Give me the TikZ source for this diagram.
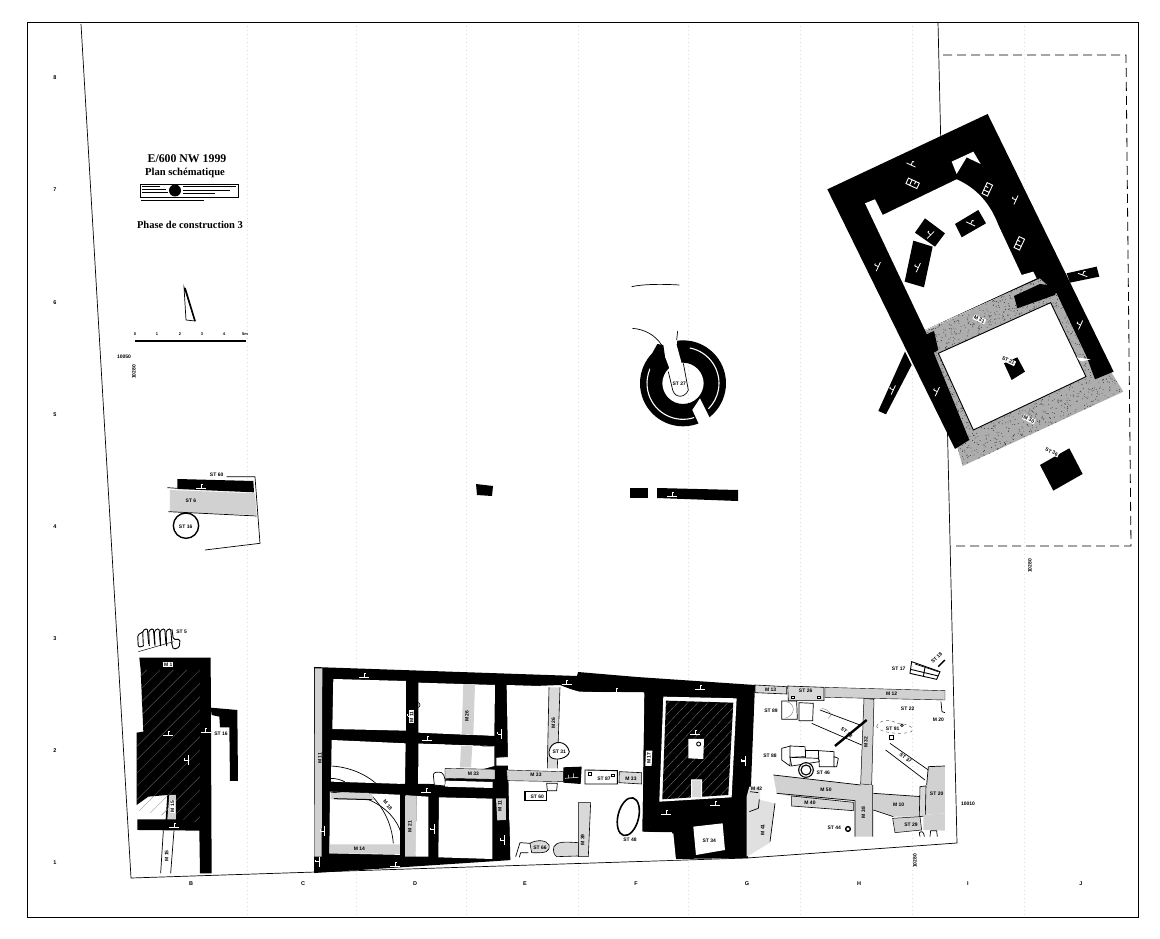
\documentclass[tikz,border=0pt]{standalone}
\usepackage{fontspec}
\setmainfont{Liberation Serif}
\newfontfamily\tagf{Liberation Sans}[Scale=1]
\tikzset{
 wallp/.style={fill=black,draw=none},
 whitep/.style={fill=white,draw=none},
 greyp/.style={fill=black!18,draw=none},
 greylined/.style={fill=black!15,draw=black,line width=.6pt},
 boxp/.style={fill=white,draw=black,line width=.7pt},
 thin1/.style={draw=black,line width=.7pt},
 med1/.style={draw=black,line width=1pt},
 gridl/.style={draw=black!14,line width=.4pt,dash pattern=on 1pt off 3pt},
 z2/.style={shift={(810,100)},x=.3333pt,y=-.3333pt},
 z3/.style={shift={(120,610)},x=.3333pt,y=-.3333pt},
 z4/.style={shift={(400,660)},x=.3333pt,y=-.3333pt},
 z5/.style={shift={(740,640)},x=.3333pt,y=-.3333pt},
 z6/.style={shift={(600,270)},x=.3333pt,y=-.3333pt},
 z7/.style={shift={(140,455)},x=.3333pt,y=-.3333pt},
}
\newcommand{\lab}[5]{\node[inner sep=0pt,text=#4,rotate=#3,font=\tagf\bfseries\fontsize{5}{5}\selectfont] at (#1,#2) {#5};}
\newcommand{\wlab}[4]{\node[inner sep=.8pt,fill=white,rotate=#3,font=\tagf\bfseries\fontsize{5}{5}\selectfont] at (#1,#2) {#4};}
\newcommand{\axl}[3]{\node[inner sep=0pt,font=\tagf\bfseries\fontsize{5.5}{6}\selectfont] at (#1,#2) {#3};}
% survey mark: x y rotation colour (always in pixel units)
\newcommand{\tmk}[4]{\begin{scope}[shift={(#1,#2)},rotate=#3,x=1pt,y=-1pt]\draw[#4,line width=.8pt] (-5,0)--(5,0) (0,0)--(0,-4) (0,-4)--(1.6,-4);\end{scope}}
% boxed mark
\newcommand{\bmk}[3]{\begin{scope}[shift={(#1,#2)},rotate=#3,x=1pt,y=-1pt]\draw[white,line width=.9pt] (-6,-3) rectangle (6,3) (-2,-3)--(-2,3) (2,-3)--(2,0);\end{scope}}
\newcommand{\speck}[5]{\foreach \i in {1,...,#5}{\pgfmathsetmacro\xa{#1+rnd*(#3-#1)}\pgfmathsetmacro\ya{#2+rnd*(#4-#2)}\fill[black!80] (\xa,\ya) circle (.45pt);}}
\begin{document}
\begin{tikzpicture}[x=1pt,y=-1pt]
\useasboundingbox (0,0) rectangle (1160,939);
\fill[white] (0,0) rectangle (1160,939);
\pgfmathsetseed{7}
\foreach \gx in {247,356,466,578,688,800,912,1024}{\draw[gridl] (\gx,22)--(\gx,917);}
\draw[black,line width=.8pt] (27,22) rectangle (1138,917);
\draw[black,line width=.7pt] (81,24)--(131,878)--(747,858)--(957,843)--(938,22);
\draw[black,line width=.8pt,dash pattern=on 9pt off 5pt] (943,55)--(1126,55)--(1131,546)--(950,546);
\axl{55}{78}{8}\axl{55}{190}{7}\axl{55}{303}{6}\axl{55}{415}{5}\axl{55}{527}{4}\axl{55}{639}{3}\axl{55}{751}{2}\axl{55}{863}{1}
\axl{191}{884}{B}\axl{303}{884}{C}\axl{415}{884}{D}\axl{525}{884}{E}\axl{636}{884}{F}\axl{747}{884}{G}\axl{859}{884}{H}\axl{968}{884}{I}\axl{1081}{884}{J}
\lab{124}{357}{0}{black}{10050}
\lab{134}{372}{90}{black}{10280}
\lab{968}{804}{0}{black}{10010}
\lab{1030}{566}{90}{black}{10280}
\lab{915}{861}{90}{black}{10280}
% title block
\node[inner sep=0pt,font=\bfseries\fontsize{11.8}{13}\selectfont] (ttl) at (187,159) {E/600 NW 1999};
\node[inner sep=0pt,font=\bfseries\fontsize{10.6}{12}\selectfont] (sub) at (185,173) {Plan schématique};
\draw[black,line width=.6pt] (140,184) rectangle (238,197);
\fill[black] (175,190.5) circle (6);
\draw[black,line width=1pt] (142,187)--(160,187) (142,190)--(166,190) (142,193)--(168,193) (183,186.5)--(236,186.5) (183,191)--(230,191) (183,194)--(215,194);
\draw[black,line width=1pt] (141,201)--(204,201);
\node[inner sep=0pt,font=\bfseries\fontsize{10.5}{12}\selectfont] (phs) at (190,225) {Phase de construction 3};
% scale bar and wedge
\draw[black,line width=.7pt,fill=white] (184,287)--(195,321)--(186,320)--cycle;
\draw[black,line width=1.6pt] (185,288)--(195,321);
\draw[black,line width=2.6pt] (135,341)--(246,341);
\foreach \sx/\st in {135/0,157/1,180/2,202/3,224/4}{\node[inner sep=0pt,font=\tagf\bfseries\fontsize{4}{5}\selectfont] at (\sx,334) {\st};}
\node[inner sep=0pt,font=\tagf\bfseries\fontsize{4}{5}\selectfont] at (245,334) {5m};
% =============== NE building
\begin{scope}[z2]
 \begin{scope}
  \clip (340,695)--(690,535)--(750,570)--(940,875)--(458,1098)--cycle;
  \fill[black!32] (340,530) rectangle (950,1100);
  \speck{340}{530}{950}{1100}{3200}
 \end{scope}
 \path[wallp] (52,268)--(533,42)--(911,815)--(855,838)--(830,770)--(740,580)--(690,535)--(345,690)--(372,760)--(478,1020)--(435,1047)--cycle;
 \path[whitep] (165,310)--(195,298)--(218,345)--(440,238) .. controls (500,265) and (540,310) .. (565,375)--(635,525)--(670,515)--(680,535)--(345,690)--cycle;
 \path[whitep] (425,185)--(490,155)--(512,192)--(470,172)--(440,222)--cycle;
 \path[wallp] (612,588)--(690,552)--(745,560)--(735,585)--(622,625)--cycle;
 \path[wallp] (340,708)--(372,693)--(385,750)--(365,762)--cycle;
 \path[wallp] (770,520)--(860,500)--(868,530)--(780,548)--cycle;
 \path[wallp] (285,755)--(305,795)--(228,943)--(205,933)--cycle;
 \path[wallp] (315,398)--(345,355)--(405,400)--(375,440)--cycle;
 \path[wallp] (310,422)--(368,440)--(342,562)--(284,545)--cycle;
 \path[wallp] (435,372)--(505,330)--(528,370)--(455,412)--cycle;
 \path[wallp] (690,1095)--(778,1045)--(818,1122)--(730,1172)--cycle;
 \path[fill=white,draw=black,line width=.9pt] (385,760)--(722,608)--(828,830)--(490,990)--cycle;
 \path[wallp] (582,790)--(622,772)--(645,815)--(605,840)--cycle;
 \path[whitep] (800,772)--(842,778)--(812,785)--cycle;
 \tmk{303}{195}{-25}{white}
 \bmk{308}{250}{-25}
 \bmk{532}{268}{65}
 \tmk{618}{300}{65}{white}
 \bmk{628}{430}{65}
 \tmk{205}{500}{65}{white}
 \tmk{325}{503}{65}{white}
 \tmk{362}{405}{45}{white}
 \tmk{482}{372}{-25}{white}
 \tmk{818}{525}{-20}{white}
 \tmk{812}{675}{65}{white}
 \tmk{382}{875}{65}{white}
 \tmk{250}{870}{65}{white}
 \wlab{508}{658}{-25}{M 31}
 \wlab{595}{782}{-25}{ST 21}
 \wlab{657}{958}{-25}{M 30}
 \wlab{725}{1056}{-25}{ST 36}
\end{scope}
% =============== ST 27 circle
\begin{scope}[z6]
 \path[wallp,even odd rule] (249,340) circle (129) (249,340) circle (62);
 \draw[white,line width=1.1pt] (249,340) ++(-79:108) arc (-79:45:108);
 \draw[white,line width=1.1pt] (249,340) ++(72:108) arc (72:216:108);
 \path[whitep] (170,175)--(235,180)--(230,225)--(245,280)--(268,300)--(210,300)--(195,260)--(172,222)--cycle;
 \path[whitep] (277,420)--(300,385)--(330,445)--(345,500)--(298,500)--(298,465)--cycle;
 \path[wallp] (150,262)--(172,222)--(190,225)--(195,260)--(150,300)--cycle;
 \draw[thin1] (205,305)--(218,360) .. controls (225,385) and (255,385) .. (265,360)--(250,280);
 \draw[thin1] (97,175) .. controls (135,178) and (165,195) .. (185,225);
 \draw[thin1] (233,183)--(230,210);
 \draw[thin1] (95,50) .. controls (130,42) and (190,42) .. (238,45);
 \lab{238}{342}{0}{black}{ST 27}
\end{scope}
\path[wallp] (476,484)--(493,486)--(492,496)--(477,495)--cycle;
\path[wallp] (630,488)--(648,488)--(648,498)--(630,498)--cycle;
\path[wallp] (657,488)--(738,490)--(738,501)--(657,498)--cycle;
\tmk{672}{496}{0}{white}
% =============== ST 16 area
\begin{scope}[z7]
 \draw[thin1] (260,65)--(345,65)--(360,265)--(195,285);
 \path[greyp] (90,105)--(345,115)--(350,180)--(90,170)--cycle;
 \path[wallp] (112,72)--(340,78)--(342,112)--(112,102)--cycle;
 \draw[thin1] (82,98)--(112,100) (85,170)--(350,183);
 \tmk{183}{99}{0}{white}
 \draw[black,line width=1.4pt,fill=white] (138,212) circle (38);
 \lab{230}{58}{0}{black}{ST 60}
 \lab{153}{137}{0}{black}{ST 6}
 \lab{137}{214}{0}{black}{ST 16}
\end{scope}
% =============== West building (B)
\begin{scope}[z3]
 \begin{scope}[rounded corners=1.5pt,black,line width=.9pt]
  \foreach \rx in {70,88,105,122,140}{\draw (\rx,108)--(\rx-2,62)--(\rx+12,55)--(\rx+16,102);}
  \draw (70,108)--(55,112)--(53,75)--(70,65);
  \draw (156,58)--(160,88)--(180,88)--(178,112)--(160,118)--(155,100);
 \end{scope}
 \draw[black,line width=.5pt] (55,125)--(160,95);
 \lab{185}{64}{0}{black}{ST 5}
 \path[wallp] (58,143)--(272,143)--(275,790)--(240,790)--(238,662)--(52,660)--(52,628)--(137,628)--(142,555)--(85,560)--(50,585)--(50,368)--(70,365)--(62,180)--cycle;
 \path[wallp] (272,293)--(352,300)--(354,513)--(330,513)--(328,352)--(300,352)--(298,320)--(275,315)--cycle;
 \begin{scope}
  \clip (60,180)--(240,180)--(240,640)--(50,600)--(50,368)--(70,365)--cycle;
  \foreach \d in {0,40,...,800}{\draw[white!45!black,line width=.25pt] (\d,100)--(\d-560,660);}
 \end{scope}
 \path[greyp] (148,555)--(168,555)--(168,628)--(142,628)--cycle;
 \draw[thin1] (130,662)--(122,790) (162,662)--(152,790);
 \path[boxp,draw=none] (130,155) rectangle (160,172);
 \lab{145}{164}{0}{black}{M 1}
 \tmk{145}{375}{0}{white}
 \tmk{257}{366}{0}{white}
 \tmk{205}{450}{90}{white}
 \tmk{163}{652}{0}{white}
 \wlab{157}{590}{90}{M 15}
 \lab{140}{738}{90}{black}{M 15}
 \lab{303}{370}{0}{black}{ST 16}
\end{scope}
% =============== Central block (D/E)
\path[wallp] (314,667)--(577,676)--(578,672)--(637,677)--(755,685)--(748,858)--(675,859)--(672,832)--(642,832)--(644,692)--(578,692)--(560,685)--(508,687)--(512,860)--(314,873)--cycle;
\begin{scope}[z3]
 \path[greyp] (585,175)--(607,175)--(605,740)--(583,740)--cycle;
 \path[whitep] (640,207)--(858,213)--(858,362)--(637,357)--cycle;
 \path[whitep] (635,390)--(857,400)--(855,522)--(633,515)--cycle;
 \path[whitep] (630,545)--(855,555)--(855,735)--(628,730)--cycle;
 \path[greyp] (857,555)--(888,558)--(888,738)--(855,738)--cycle;
 \path[greyp] (630,703)--(852,703)--(852,732)--(628,730)--cycle;
 \draw[thin1] (630,468) .. controls (690,470) and (740,495) .. (770,522);
 \draw[thin1] (630,505) .. controls (650,505) and (665,510) .. (675,516);
 \draw[thin1] (745,547) .. controls (790,590) and (815,640) .. (820,700);
 \draw[thin1] (632,547) .. controls (760,550) and (840,610) .. (850,700);
 \path[greyp] (632,549) -- (745,549) .. controls (760,555) and (760,560) .. (762,570)--(632,568)--cycle;
 \draw[thin1,line width=1pt] (642,566)--(755,569);
 \draw[black,line width=.5pt] (852,733)--(890,738);
 \lab{600}{445}{90}{black}{M 11}
 \lab{803}{585}{-50}{black}{M 18}
 \lab{718}{715}{0}{black}{M 14}
 \lab{870}{650}{90}{black}{M 21}
 \tmk{733}{202}{0}{white}
 \tmk{875}{318}{90}{white}
 \tmk{612}{663}{90}{white}
 \tmk{598}{755}{90}{white}
 \tmk{825}{768}{0}{white}
\end{scope}
\begin{scope}[z4]
 \path[whitep] (55,68)--(285,75)--(283,228)--(55,218)--cycle;
 \path[greyp] (190,72)--(225,72)--(220,225)--(185,222)--cycle;
 \path[whitep] (55,250)--(283,258)--(283,318)--(55,380)--cycle;
 \path[whitep] (55,320)--(135,320)--(135,380)--(55,380)--cycle;
 \path[whitep] (250,230)--(280,230)--(280,258)--(248,258)--cycle;
 \draw[thin1] (250,230)--(280,230)--(280,258)--(248,258)--cycle;
 \path[greyp] (183,258)--(217,258)--(213,322)--(180,322)--cycle;
 \path[wallp] (0,372)--(90,372)--(285,385)--(285,412)--(0,405)--cycle;
 \path[wallp] (0,220)--(283,228)--(283,258)--(0,248)--cycle;
 \path[greyp,draw=black,line width=.4pt] (135,325)--(285,328)--(285,358)--(135,355)--cycle;
 \path[boxp,line width=.7pt] (100,345) .. controls (100,335) and (115,335) .. (125,338) .. controls (135,345) and (137,365) .. (135,378)--(103,375)--cycle;
 \path[whitep] (137,362)--(278,366)--(278,384)--(135,380)--cycle;
 \path[greyp] (15,408)--(50,408)--(47,590)--(15,590)--cycle;
 \path[whitep] (50,408)--(85,410)--(85,590)--(47,590)--cycle;
 \path[whitep] (117,412)--(277,416)--(277,597)--(115,592)--cycle;
 \path[wallp] (0,405)--(15,405)--(15,590)--(0,590)--cycle;
 \path[whitep,draw=black,line width=.7pt] (288,292)--(326,290)--(326,318)--(288,318)--cycle;
 \path[greyp] (288,415)--(318,415)--(318,480)--(292,482)--cycle;
 \path[whitep] (320,75)--(482,80)--(538,95)--(733,100)--(727,515)--(820,520)--(828,600)--(330,605)--cycle;
 \path[wallp] (290,482)--(328,480)--(331,600)--(115,600)--(277,597)--(290,595)--cycle;
 \path[greylined,draw=none] (447,82)--(480,82)--(472,325)--(442,325)--cycle;
 \draw[black,line width=.6pt] (447,82)--(442,325) (480,82)--(472,325);
 \path[greyp,draw=black,line width=.4pt] (320,330)--(490,335)--(490,365)--(322,362)--cycle;
 \path[wallp] (490,322)--(545,320)--(542,372)--(490,368)--cycle;
 \draw[white,line width=.5pt] (495,355)--(535,352) (505,355)--(505,345) (520,352)--(520,340);
 \path[boxp,line width=.9pt] (555,330)--(652,332)--(652,372)--(555,372)--cycle;
 \draw[black,line width=.7pt] (566,336) rectangle (575,345);
 \draw[black,line width=.7pt] (635,342) rectangle (642,350);
 \path[greylined] (658,335)--(725,338)--(725,372)--(657,368)--cycle;
 \path[boxp,line width=1.2pt] (375,395)--(440,395)--(440,422)--(375,422)--cycle;
 \path[boxp] (440,370)--(472,370)--(470,392)--(442,392)--cycle;
 \path[greylined] (535,428)--(572,428)--(565,590)--(535,590)--cycle;
 \draw[black,line width=1.6pt] (685,470) ellipse [x radius=31,y radius=58,rotate=-14];
 \draw[boxp,line width=.9pt] (450,265) .. controls (460,240) and (500,240) .. (508,275) .. controls (505,295) and (465,305) .. (450,290) .. controls (445,280) and (447,270) .. (450,265);
 \draw[greylined] (390,550) .. controls (410,538) and (440,540) .. (447,555) .. controls (450,575) and (440,580) .. (395,578)--cycle;
 \draw[greylined] (462,560) .. controls (470,545) and (490,545) .. (535,548)--(535,588)--(470,590) .. controls (462,585) and (458,572) .. (462,560);
 \draw[thin1] (347,590)--(360,548)--(390,550) (385,578)--(362,578)--(358,592);
 \path[fill=white] (790,110)--(1010,115)--(995,412)--(778,425)--cycle;
 \path[wallp] (798,122)--(1000,128)--(985,405)--(787,418)--cycle;
 \begin{scope}
  \clip (798,122)--(1000,128)--(985,405)--(787,418)--cycle;
  \foreach \d in {800,830,...,1400}{\draw[white!55!black,line width=.25pt] (\d,100)--(\d-330,450);}
 \end{scope}
 \path[whitep] (865,237)--(912,237)--(910,297)--(865,295)--cycle;
 \draw[black,line width=.9pt] (896,252) circle (6);
 \path[fill=black!15,draw=white,line width=1pt] (875,360)--(905,360)--(905,415)--(875,412)--cycle;
 \path[whitep] (880,500)--(968,490)--(975,570)--(888,585)--cycle;
 \path[whitep] (738,272)--(757,272)--(755,318)--(736,318)--cycle;
 \lab{747}{295}{90}{black}{M 17}
 \draw[black,line width=.6pt] (52,135) circle (8);
 \tmk{82}{241}{0}{white}
 \tmk{305}{222}{90}{white}
 \tmk{78}{398}{0}{white}
 \tmk{103}{508}{90}{white}
 \tmk{312}{540}{90}{white}
 \tmk{500}{72}{0}{white}
 \tmk{648}{97}{0}{white}
 \tmk{900}{88}{0}{white}
 \tmk{885}{222}{0}{white}
 \tmk{945}{436}{0}{white}
 \tmk{798}{462}{0}{white}
 \tmk{1035}{303}{90}{white}
 \wlab{35}{170}{90}{M 11}
 \lab{201}{168}{90}{black}{M 26}
 \lab{460}{190}{90}{black}{M 26}
 \lab{220}{342}{0}{black}{M 33}
 \lab{408}{345}{0}{black}{M 33}
 \lab{693}{355}{0}{black}{M 33}
 \lab{612}{356}{0}{black}{ST 87}
 \lab{412}{409}{0}{black}{ST 60}
 \lab{478}{275}{0}{black}{ST 31}
 \lab{30}{500}{90}{black}{M 21}
 \lab{300}{438}{90}{black}{M 11}
 \lab{548}{540}{90}{black}{M 39}
 \lab{420}{563}{0}{black}{ST 66}
 \lab{690}{538}{0}{black}{ST 48}
 \lab{928}{541}{0}{black}{ST 34}
\end{scope}
% =============== East zone (G-H-I)
\begin{scope}[z5]
 \path[fill=black!12] (28,440)--(60,440)--(60,480)--(105,490)--(90,608)--(20,650)--(20,470)--cycle;
 \draw[thin1] (105,490)--(90,605);
 \draw[thin1] (30,455)--(55,458) (58,478)--(55,505)--(28,515);
 \path[greylined] (45,135)--(140,140)--(140,162)--(45,158)--cycle;
 \path[greylined] (143,138)--(252,142)--(252,182)--(145,182)--cycle;
 \path[fill=white] (155,168) rectangle (164,174) (232,168) rectangle (241,174);
 \draw[thin1] (155,168) rectangle (164,174) (232,168) rectangle (241,174);
 \path[greyp,draw=black,line width=.4pt] (255,142)--(615,152)--(615,180)--(255,172)--cycle;
 \path[greyp,draw=black,line width=.5pt] (372,175)--(402,178)--(395,435)--(362,432)--cycle;
 \path[greyp] (100,405)--(362,435)--(398,435)--(398,590)--(345,590)--(345,482)--(155,470)--(110,460)--cycle;
 \draw[thin1] (100,405)--(362,435) (110,460)--(345,482)--(345,590) (398,435)--(398,590);
 \path[fill=black!16,draw=black,line width=.6pt] (155,468)--(340,487)--(340,512)--(155,498)--cycle;
 \path[greyp] (400,460)--(545,470)--(545,530)--(460,530)--(400,510)--cycle;
 \draw[thin1] (400,460)--(545,470) (400,510)--(460,530);
 \path[greyp] (565,380)--(615,378)--(615,520)--(545,525)--(540,440)--(560,435)--cycle;
 \draw[thin1] (565,380)--(615,378) (560,435)--(565,380);
 \path[greylined] (540,440)--(558,438)--(556,528)--(538,530)--cycle;
 \path[greyp,draw=black,line width=.5pt] (458,535)--(540,530)--(545,570)--(465,578)--cycle;
 \path[greyp] (550,525)--(615,520)--(615,572)--(550,570)--cycle;
 \draw[thin1] (540,590)--(538,578) .. controls (545,572) and (552,575) .. (553,590) (570,590)--(572,572)--(590,572)--(592,590);
 \draw[thin1] (450,310)--(565,390) (437,330)--(555,420);
 \draw[thin1] (240,210)--(360,255) (215,250)--(365,315);
 \draw[black,line width=2.4pt] (285,318)--(380,240);
 \draw[boxp] (125,183)--(170,183)--(172,238)--(125,238)--cycle;
 \draw[boxp] (177,188)--(220,190)--(218,242)--(177,242)--cycle;
 \draw[draw=black!50,line width=.4pt] (140,185) .. controls (165,190) and (170,225) .. (135,235) (245,205) .. controls (270,210) and (280,225) .. (265,235);
 \draw[boxp] (125,325)--(152,318)--(150,378)--(125,360)--cycle;
 \draw[boxp] (150,318)--(195,320)--(197,350)--(150,352)--cycle;
 \draw[boxp] (197,330)--(235,330)--(235,355)--(197,355)--cycle;
 \draw[boxp] (235,332)--(282,335)--(283,380)--(238,380)--cycle;
 \draw[boxp] (282,350)--(295,355)--(290,380)--(282,380)--cycle;
 \draw[boxp] (150,352)--(235,355)--(238,365)--(155,378)--cycle;
 \draw[black,line width=1.1pt,fill=white] (198,390) circle (22);
 \draw[black,line width=1.1pt] (198,390) circle (15);
 \draw[black,line width=1.4pt] (324,567) circle (7);
 \draw[black!60,line width=.5pt,dashed] (410,260) .. controls (415,240) and (450,235) .. (470,250) .. controls (500,250) and (525,262) .. (515,275) .. controls (490,285) and (420,280) .. (410,260);
 \draw[thin1,fill=white] (447,285) rectangle (459,297);
 \draw[thin1] (486,256) circle (4);
 \draw[thin1] (603,185)--(606,215)--(615,218);
 \draw[thin1,line width=.9pt] (515,65)--(600,95)--(590,118)--(510,100)--cycle;
 \draw[thin1,line width=.9pt] (512,88)--(595,108) (555,82)--(550,110);
 \draw[thin1] (525,72)--(595,95);
 \draw[black,line width=1.4pt] (595,80)--(615,60);
 \lab{92}{150}{0}{black}{M 13}
 \lab{197}{152}{0}{black}{ST 26}
 \lab{455}{162}{0}{black}{M 12}
 \lab{93}{211}{0}{black}{ST 89}
 \lab{90}{346}{0}{black}{ST 88}
 \lab{503}{205}{0}{black}{ST 22}
 \lab{595}{238}{0}{black}{M 20}
 \lab{458}{265}{0}{black}{ST 91}
 \lab{320}{277}{-40}{black}{ST 38}
 \lab{378}{306}{90}{black}{M 32}
 \lab{497}{355}{-35}{black}{ST 37}
 \lab{250}{399}{0}{black}{ST 46}
 \lab{258}{449}{0}{black}{M 50}
 \lab{210}{487}{0}{black}{M 40}
 \lab{370}{518}{90}{black}{M 38}
 \lab{283}{564}{0}{black}{ST 44}
 \lab{476}{495}{0}{black}{M 10}
 \lab{590}{460}{0}{black}{ST 20}
 \lab{513}{553}{0}{black}{ST 29}
 \lab{476}{85}{0}{black}{ST 17}
 \lab{590}{53}{45}{black}{ST 18}
 \lab{68}{570}{90}{black}{M 41}
 \lab{50}{445}{0}{black}{M 42}
 \tmk{15}{362}{90}{white}
\end{scope}
\end{tikzpicture}
\end{document}
